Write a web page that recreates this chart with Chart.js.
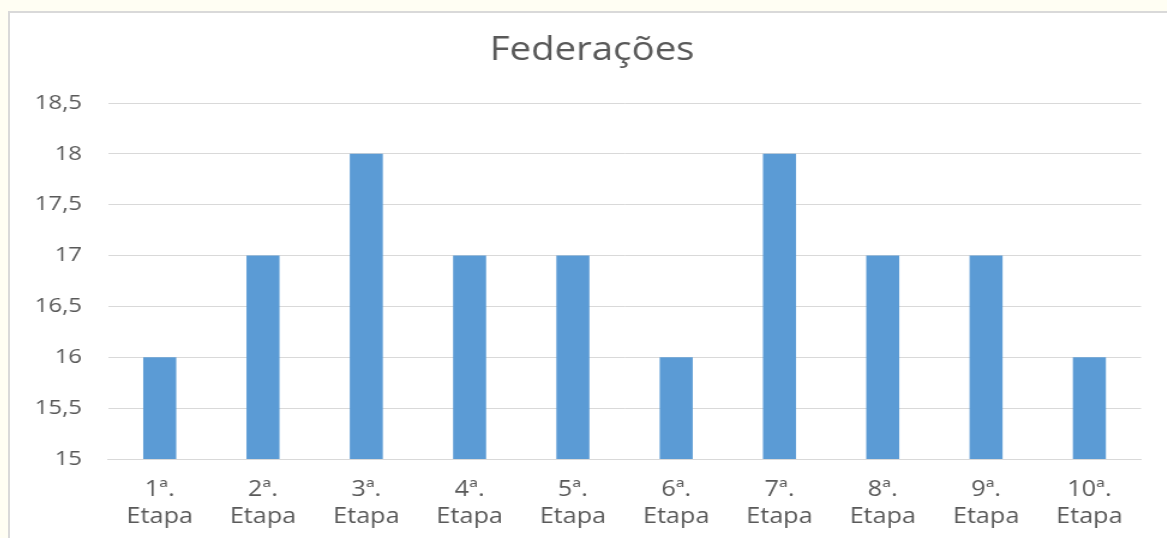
<!DOCTYPE html>
<html>
<head>
<meta charset="utf-8">
<script src="https://cdn.jsdelivr.net/npm/chart.js@4/dist/chart.umd.min.js"></script>
<style>
    html, body { margin: 0; padding: 0; background: #fffef3; overflow: hidden; }
    #wrap {
        position: absolute; left: 8px; top: 11px; width: 1159px; height: 527px;
        background: #ffffff; border-top: 2px solid #d9d9d9; border-left: 2px solid #d9d9d9;
    }
</style>
</head>
<body>
<!-- the original picture is stretched sideways, so the canvas is too -->
<div id="wrap"><canvas id="chart" width="970" height="525" style="width:1164px;height:525px"></canvas></div>
<script>
// Data
const TITLE = 'Federações';
const categories = [
    ['1ª.', 'Etapa'], ['2ª.', 'Etapa'], ['3ª.', 'Etapa'], ['4ª.', 'Etapa'], ['5ª.', 'Etapa'],
    ['6ª.', 'Etapa'], ['7ª.', 'Etapa'], ['8ª.', 'Etapa'], ['9ª.', 'Etapa'], ['10ª.', 'Etapa'],
];
const values = [16, 17, 18, 17, 17, 16, 18, 17, 17, 16];
const yMin = 15;
const yMax = 18.5;
const yStep = 0.5;

const TEXT_COLOR = '#595959';
const GRID_COLOR = '#d9d9d9';
const FONT = "'Open Sans', 'Noto Sans', sans-serif";

new Chart(document.getElementById('chart'), {
    type: 'bar',
    data: {
        labels: categories,
        datasets: [{
            label: TITLE,
            data: values,
            backgroundColor: '#5b9bd5',
            categoryPercentage: 1,
            barPercentage: 0.32,
        }]
    },
    options: {
        responsive: false,
        animation: false,
        layout: { padding: 0 },
        plugins: {
            legend: { display: false },
            tooltip: { enabled: false },
            title: {
                display: true,
                text: TITLE,
                color: TEXT_COLOR,
                font: { family: FONT, size: 32, weight: 'normal', lineHeight: 1.2 },
                padding: { top: 19, bottom: 32.6 },
            },
        },
        scales: {
            x: {
                grid: { display: false, drawTicks: false },
                border: { display: true, color: GRID_COLOR, width: 1 },
                ticks: {
                    color: TEXT_COLOR,
                    font: { family: FONT, size: 21, lineHeight: 1.286 },
                    padding: 18,
                    maxRotation: 0,
                    autoSkip: false,
                },
                afterFit(scale) { scale.height = 79; },
            },
            y: {
                min: yMin,
                max: yMax,
                grid: { color: GRID_COLOR, drawTicks: false },
                border: { display: false },
                ticks: {
                    stepSize: yStep,
                    color: TEXT_COLOR,
                    font: { family: FONT, size: 20 },
                    padding: 21.7,
                    callback: (v) => String(v).replace('.', ','),
                },
                afterFit(scale) { scale.width = 81.7; },
            },
            // empty strip on the right so the title sits where it does in the original
            spacer: {
                position: 'right',
                grid: { display: false, drawTicks: false },
                border: { display: false },
                ticks: { display: false },
                afterFit(scale) { scale.width = 27.5; },
            },
        },
    },
});
</script>
</body>
</html>
